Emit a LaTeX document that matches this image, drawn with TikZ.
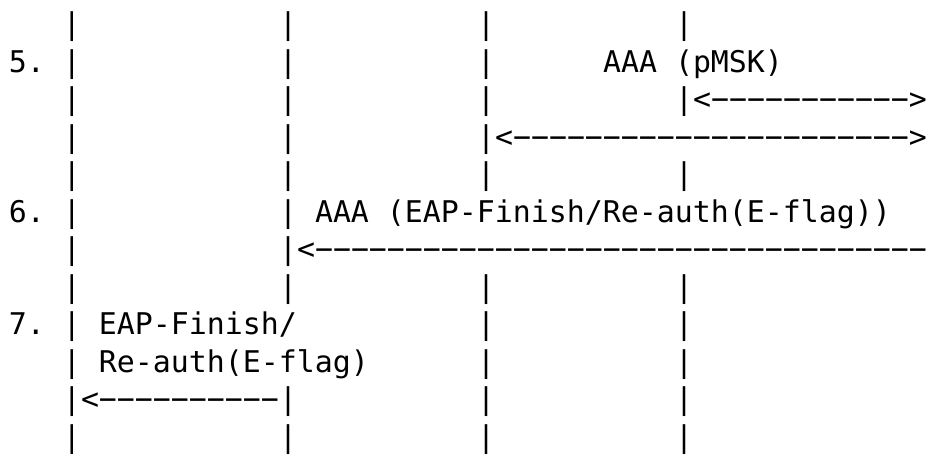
\documentclass[tikz,border=0pt]{standalone}
\usepackage{fontspec}
\setmonofont{DejaVu Sans Mono}
\usepackage{tikz}
\tikzset{
    ascii-text/.style = {inner sep=0pt, outer sep=0pt, anchor=base west, font=\ttfamily\fontsize{14.95pt}{18.75pt}\selectfont},
}

\begin{document}
\begin{tikzpicture}[x=9pt, y=-18.75pt]
\useasboundingbox (-4.5pt,-1.5pt) rectangle (459.5pt,-229.5pt);

% lifelines, one bar per text row
\foreach \r in {1,2,3,4,5,6,7,8,9,10,11,12} \node[ascii-text] (peer-\r) at (3,\r) {|};
\foreach \r in {1,2,3,4,5,6,7,8,11,12} \node[ascii-text] (auth-\r) at (15,\r) {|};
\foreach \r in {1,2,3,4,5,8,9,10,11,12} \node[ascii-text] (local-\r) at (26,\r) {|};
\foreach \r in {1,3,5,8,9,10,11,12} \node[ascii-text] (home-\r) at (37,\r) {|};

% step numbers
\node[ascii-text] (step-5) at (0,2) {5.};
\node[ascii-text] (step-6) at (0,6) {6.};
\node[ascii-text] (step-7) at (0,9) {7.};

% step 5
\node[ascii-text] (msg-pmsk) at (33,2) {AAA (pMSK)};
\node[ascii-text] (arr-pmsk-home) at (38,3) {<−−−−−−−−−−−>};
\node[ascii-text] (arr-pmsk-local) at (27,4) {<−−−−−−−−−−−−−−−−−−−−−−>};

% step 6
\node[ascii-text] (msg-aaa-finish) at (17,6) {AAA (EAP-Finish/Re-auth(E-flag))};
\node[ascii-text] (arr-aaa-finish) at (16,7) {<−−−−−−−−−−−−−−−−−−−−−−−−−−−−−−−−−−};

% step 7
\node[ascii-text] (msg-finish) at (5,9) {EAP-Finish/};
\node[ascii-text] (msg-finish-cont) at (5,10) {Re-auth(E-flag)};
\node[ascii-text] (arr-finish) at (4,11) {<−−−−−−−−−−};
\end{tikzpicture}
\end{document}
